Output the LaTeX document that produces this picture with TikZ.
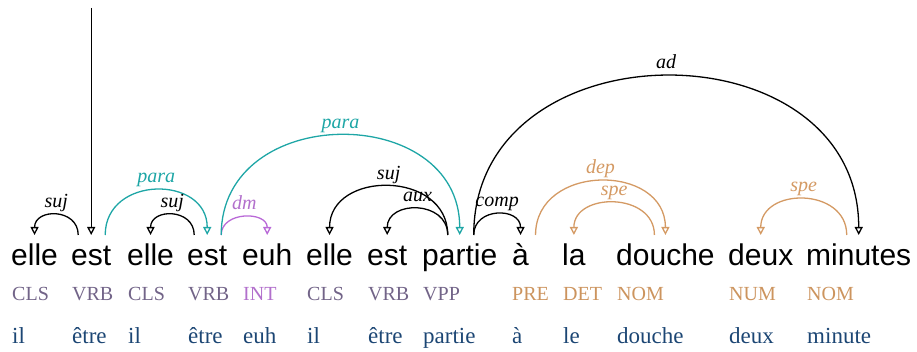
\documentclass[tikz,border=0pt]{standalone}
\usepackage{fontspec}
\setmainfont{Liberation Serif}
\newfontfamily\wordfont{Liberation Sans}
\usetikzlibrary{arrows.meta}
\definecolor{posgray}{RGB}{114,100,136}
\definecolor{intpurple}{RGB}{178,112,204}
\definecolor{tan}{RGB}{204,148,94}
\definecolor{lemblue}{RGB}{28,70,116}
\definecolor{tealc}{RGB}{30,166,166}
\definecolor{dmpurple}{RGB}{185,105,215}
\definecolor{orangec}{RGB}{212,154,100}
\begin{document}
\begin{tikzpicture}[x=1pt,y=-1pt,
  word/.style={anchor=base west, inner sep=0pt, font=\wordfont\fontsize{30}{32}\selectfont},
  posl/.style={anchor=base west, inner sep=0pt, font=\fontsize{20}{22}\selectfont},
  lem/.style={anchor=base west, inner sep=0pt, text=lemblue, font=\fontsize{23}{25}\selectfont},
  deparc/.style={line width=1.3pt, -{Triangle[open,length=8pt,width=8pt]}},
  lab/.style={font=\itshape\fontsize{20}{22}\selectfont, anchor=base, inner sep=0pt, yshift=7pt}
]
\useasboundingbox (0,0) rectangle (917,352);

% words
\node[word] (w1) at (11,266) {elle};
\node[word] (w2) at (71,266) {est};
\node[word] (w3) at (127,266) {elle};
\node[word] (w4) at (187,266) {est};
\node[word] (w5) at (242,266) {euh};
\node[word] (w6) at (306,266) {elle};
\node[word] (w7) at (367,266) {est};
\node[word] (w8) at (422,266) {partie};
\node[word] (w9) at (512,266) {à};
\node[word] (w10) at (562,266) {la};
\node[word] (w11) at (616,266) {douche};
\node[word] (w12) at (728,266) {deux};
\node[word] (w13) at (806,266) {minutes};

% POS tags
\node[posl,text=posgray] (p1) at ([xshift=1pt,yshift=-35pt]w1.base west) {CLS};
\node[posl,text=posgray] (p2) at ([xshift=1pt,yshift=-35pt]w2.base west) {VRB};
\node[posl,text=posgray] (p3) at ([xshift=1pt,yshift=-35pt]w3.base west) {CLS};
\node[posl,text=posgray] (p4) at ([xshift=1pt,yshift=-35pt]w4.base west) {VRB};
\node[posl,text=intpurple] (p5) at ([xshift=1pt,yshift=-35pt]w5.base west) {INT};
\node[posl,text=posgray] (p6) at ([xshift=1pt,yshift=-35pt]w6.base west) {CLS};
\node[posl,text=posgray] (p7) at ([xshift=1pt,yshift=-35pt]w7.base west) {VRB};
\node[posl,text=posgray] (p8) at ([xshift=1pt,yshift=-35pt]w8.base west) {VPP};
\node[posl,text=tan] (p9) at ([xshift=0pt,yshift=-35pt]w9.base west) {PRE};
\node[posl,text=tan] (p10) at ([xshift=1pt,yshift=-35pt]w10.base west) {DET};
\node[posl,text=tan] (p11) at ([xshift=1pt,yshift=-35pt]w11.base west) {NOM};
\node[posl,text=tan] (p12) at ([xshift=1pt,yshift=-35pt]w12.base west) {NUM};
\node[posl,text=tan] (p13) at ([xshift=1pt,yshift=-35pt]w13.base west) {NOM};

% lemmas
\node[lem] (l1) at ([xshift=1pt,yshift=-77pt]w1.base west) {il};
\node[lem] (l2) at ([xshift=1pt,yshift=-77pt]w2.base west) {être};
\node[lem] (l3) at ([xshift=1pt,yshift=-77pt]w3.base west) {il};
\node[lem] (l4) at ([xshift=1pt,yshift=-77pt]w4.base west) {être};
\node[lem] (l5) at ([xshift=1pt,yshift=-77pt]w5.base west) {euh};
\node[lem] (l6) at ([xshift=1pt,yshift=-77pt]w6.base west) {il};
\node[lem] (l7) at ([xshift=1pt,yshift=-77pt]w7.base west) {être};
\node[lem] (l8) at ([xshift=1pt,yshift=-77pt]w8.base west) {partie};
\node[lem] (l9) at ([xshift=0pt,yshift=-77pt]w9.base west) {à};
\node[lem] (l10) at ([xshift=1pt,yshift=-77pt]w10.base west) {le};
\node[lem] (l11) at ([xshift=1pt,yshift=-77pt]w11.base west) {douche};
\node[lem] (l12) at ([xshift=1pt,yshift=-77pt]w12.base west) {deux};
\node[lem] (l13) at ([xshift=1pt,yshift=-77pt]w13.base west) {minute};

% attachment points above words
\foreach \n in {1,...,13} \coordinate (t\n) at ([yshift=31pt]w\n.base);
\coordinate (root) at (t2 |- 0,8);

% root
\draw[deparc] (root) -- (t2);

% arcs
\draw[deparc] ([xshift=-13pt]t2) .. controls +(0,-27) and +(0,-27) .. (t1) node[lab,pos=0.5]{suj};
\draw[deparc,tealc] ([xshift=14pt]t2) .. controls +(0,-60) and +(0,-60) .. (t4) node[lab,pos=0.5]{para};
\draw[deparc] ([xshift=-13pt]t4) .. controls +(0,-27) and +(0,-27) .. (t3) node[lab,pos=0.5]{suj};
\draw[deparc,dmpurple] ([xshift=14pt]t4) .. controls +(0,-24) and +(0,-24) .. (t5) node[lab,pos=0.5,text=intpurple]{dm};
\draw[deparc,tealc] ([xshift=14pt]t4) .. controls +(0,-133) and +(0,-133) .. (t8) node[lab,pos=0.5]{para};
\draw[deparc] ([xshift=-12pt]t8) .. controls +(0,-65) and +(0,-65) .. (t6) node[lab,pos=0.5]{suj};
\draw[deparc] ([xshift=-12pt]t8) .. controls +(0,-35) and +(0,-35) .. (t7) node[lab,pos=0.5]{aux};
\draw[deparc] ([xshift=14pt]t8) .. controls +(0,-28) and +(0,-28) .. (t9) node[lab,pos=0.5]{comp};
\draw[deparc] ([xshift=14pt]t8) .. controls +(0,-212) and +(0,-212) .. (t13) node[lab,pos=0.5]{ad};
\draw[deparc,orangec] ([xshift=15pt]t9) .. controls +(0,-72) and +(0,-72) .. (t11) node[lab,pos=0.5]{dep};
\draw[deparc,orangec] ([xshift=-11pt]t11) .. controls +(0,-43) and +(0,-43) .. (t10) node[lab,pos=0.5]{spe};
\draw[deparc,orangec] ([xshift=-12pt]t13) .. controls +(0,-48) and +(0,-48) .. (t12) node[lab,pos=0.5]{spe};
\end{tikzpicture}
\end{document}
